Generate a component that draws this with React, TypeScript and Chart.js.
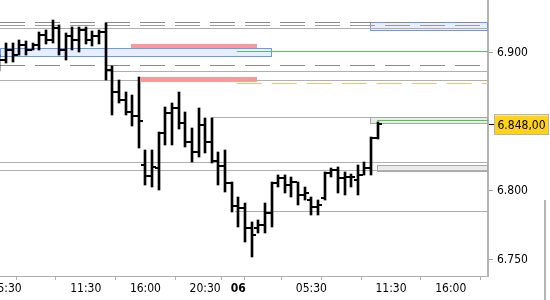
import React, { useEffect, useRef } from 'react';
import { Chart, registerables } from 'chart.js';

Chart.register(...registerables);

// 30-minute bars, x = slot index on the session time axis
const slots = [-1, 0, 1, 2, 3, 4, 5, 6, 7, 8, 9, 10, 11, 12, 13, 14, 15, 16, 17, 18, 19, 20, 21, 22, 23, 24, 25, 26, 27, 28, 29, 30, 31, 32, 33, 34, 35, 36, 37, 38, 39, 40, 41, 42, 43, 44, 45, 46, 47, 48, 49, 50, 51, 52, 53, 54, 55, 56];
const opens = [6.8933, 6.8947, 6.9020, 6.8983, 6.9056, 6.9020, 6.9056, 6.9128, 6.9092, 6.9179, 6.9020, 6.9121, 6.9092, 6.9165, 6.9092, 6.9121, 6.9150, 6.8875, 6.8715, 6.8657, 6.8570, 6.8541, 6.8186, 6.8107, 6.8165, 6.8418, 6.8563, 6.8599, 6.8491, 6.8353, 6.8281, 6.8476, 6.8353, 6.8215, 6.8179, 6.8056, 6.7889, 6.7875, 6.7730, 6.7730, 6.7752, 6.7839, 6.8056, 6.8092, 6.8041, 6.8063, 6.7969, 6.7933, 6.7882, 6.7947, 6.8128, 6.8150, 6.8092, 6.8099, 6.8078, 6.8114, 6.8165, 6.8382];
const highs = [6.8983, 6.9070, 6.9070, 6.9092, 6.9085, 6.9070, 6.9150, 6.9165, 6.9237, 6.9201, 6.9143, 6.9186, 6.9186, 6.9186, 6.9157, 6.9165, 6.9215, 6.8904, 6.8802, 6.8715, 6.8694, 6.8824, 6.8295, 6.8295, 6.8426, 6.8607, 6.8636, 6.8715, 6.8570, 6.8455, 6.8599, 6.8527, 6.8527, 6.8281, 6.8295, 6.8063, 6.7955, 6.7911, 6.7773, 6.7788, 6.7911, 6.8063, 6.8114, 6.8114, 6.8099, 6.8063, 6.8027, 6.7955, 6.7933, 6.8136, 6.8165, 6.8172, 6.8136, 6.8121, 6.8186, 6.8208, 6.8389, 6.8497];
const lows = [6.8868, 6.8926, 6.8933, 6.8983, 6.8983, 6.9020, 6.9020, 6.9063, 6.9070, 6.8983, 6.8947, 6.9020, 6.9005, 6.9063, 6.9049, 6.9063, 6.8802, 6.8549, 6.8636, 6.8549, 6.8469, 6.8310, 6.8041, 6.8027, 6.8005, 6.8331, 6.8331, 6.8447, 6.8317, 6.8208, 6.8244, 6.8273, 6.8201, 6.8041, 6.7991, 6.7846, 6.7737, 6.7628, 6.7519, 6.7694, 6.7694, 6.7737, 6.8027, 6.7984, 6.7955, 6.7897, 6.7933, 6.7824, 6.7824, 6.7933, 6.8099, 6.7984, 6.7969, 6.8027, 6.7969, 6.8114, 6.8114, 6.8375];
const closes = [6.8947, 6.9020, 6.8983, 6.9056, 6.9020, 6.9056, 6.9128, 6.9092, 6.9179, 6.9020, 6.9121, 6.9092, 6.9165, 6.9092, 6.9121, 6.9150, 6.8875, 6.8715, 6.8657, 6.8570, 6.8541, 6.8505, 6.8107, 6.8172, 6.8418, 6.8563, 6.8599, 6.8491, 6.8353, 6.8281, 6.8476, 6.8353, 6.8215, 6.8179, 6.8056, 6.7889, 6.7875, 6.7730, 6.7679, 6.7752, 6.7839, 6.8056, 6.8092, 6.8041, 6.8063, 6.7969, 6.7984, 6.7882, 6.7897, 6.8128, 6.8150, 6.8092, 6.8099, 6.8099, 6.8114, 6.8165, 6.8382, 6.8480];

const timeTickSlots = [0, 3, 12, 21, 30, 35, 37, 46, 49, 58, 67];
const timeTickLabels = ['05:30', '', '11:30', '16:00', '20:30', '06', '', '05:30', '', '11:30', '16:00'];
const dayTickSlot = 35;
const priceTicks = [6.75, 6.8, 6.9];
const lastPrice = 6.848;
const lastPriceLabel = '6.848,00';

const xMin = -0.915;
const xMax = 72.62;
const yMin = 6.7382;
const yMax = 6.9382;

// horizontal levels: price, from slot, to slot
const levelPrices = [6.9219, 6.9197, 6.9175, 6.9010, 6.8904, 6.8865, 6.8800, 6.8778, 6.8527, 6.8510, 6.8208, 6.8143, 6.7853];
const levelFrom = [xMin, xMin, xMin, 34.75, xMin, 15, xMin, 34.75, 30.88, 55.9, xMin, xMin, 34.5];
const levelTo = [xMax, xMax, xMax, xMax, xMax, xMax, xMax, xMax, 54.84, xMax, xMax, xMax, xMax];
const levelKinds = ['dash', 'dash2', 'solid', 'green', 'dash', 'solid', 'solid', 'orange', 'solid', 'green2', 'solid', 'solid', 'solid'];

// zones: top price, bottom price, from slot, to slot
const zoneTop = [6.9220, 6.9032, 6.8531, 6.8186, 6.9063, 6.8822];
const zoneBottom = [6.9162, 6.8974, 6.8489, 6.8143, 6.9034, 6.8790];
const zoneFrom = [54.84, xMin, 54.84, 55.9, 18.83, 20.18];
const zoneTo = [xMax, 40.03, xMax, xMax, 37.8, 37.8];
const zoneKinds = ['blue', 'blue', 'gray', 'gray', 'red', 'red'];

const FONT = "'DejaVu Sans Condensed', 'Liberation Sans', sans-serif";

const lineStyles: Record<string, { color: string; dash: number[] }> = {
  dash: { color: '#8a8a8a', dash: [25, 10] },
  dash2: { color: '#9a9a9a', dash: [25, 10] },
  solid: { color: '#b0b0b0', dash: [] },
  green: { color: '#5cbf5c', dash: [] },
  green2: { color: '#3fd23f', dash: [] },
  orange: { color: '#f2c266', dash: [25, 10] },
};

const zoneStyles: Record<string, { fill: string; stroke: string | null; over: boolean }> = {
  blue: { fill: '#e8eefc', stroke: '#6a9af0', over: false },
  gray: { fill: '#ececec', stroke: '#a8a8a8', over: false },
  red: { fill: '#f79a9a', stroke: null, over: true },
};

function drawZones(chart: any, over: boolean) {
  const { ctx, scales, chartArea } = chart;
  const xs = scales.x;
  const ys = scales.y;
  ctx.save();
  ctx.beginPath();
  ctx.rect(chartArea.left, chartArea.top, chartArea.right - chartArea.left, chartArea.bottom - chartArea.top);
  ctx.clip();
  zoneKinds.forEach((k, i) => {
    const st = zoneStyles[k];
    if (st.over !== over) return;
    const x0 = Math.round(xs.getPixelForValue(zoneFrom[i]));
    const x1 = Math.round(xs.getPixelForValue(zoneTo[i]));
    const y0 = Math.round(ys.getPixelForValue(zoneTop[i]));
    const y1 = Math.round(ys.getPixelForValue(zoneBottom[i]));
    ctx.fillStyle = st.fill;
    ctx.fillRect(x0, y0, x1 - x0, y1 - y0);
    if (st.stroke) {
      ctx.strokeStyle = st.stroke;
      ctx.lineWidth = 1;
      ctx.strokeRect(x0 + 0.5, y0 + 0.5, x1 - x0 - 1, y1 - y0);
    }
  });
  ctx.restore();
}

function drawLastLabel(chart: any) {
  const { ctx, scales, chartArea, width, height } = chart;
  const y = Math.round(scales.y.getPixelForValue(lastPrice));
  const r = chartArea.right;
  ctx.save();
  // right frame edge of the price panel
  ctx.fillStyle = '#b4b4b4';
  ctx.fillRect(width - 6, chartArea.bottom - 76, 2, height - (chartArea.bottom - 76));
  ctx.fillStyle = '#000';
  ctx.fillRect(r + 1, y, 5, 1);
  ctx.fillStyle = '#ffd21c';
  ctx.fillRect(r + 6, y - 10, 54, 21);
  ctx.strokeStyle = '#b4b4b4';
  ctx.lineWidth = 1;
  ctx.strokeRect(r + 6.5, y - 9.5, 54, 20);
  ctx.strokeStyle = '#ffe97a';
  ctx.beginPath();
  ctx.moveTo(r + 7, y - 8.5);
  ctx.lineTo(r + 60, y - 8.5);
  ctx.stroke();
  ctx.fillStyle = '#000';
  ctx.font = `12px ${FONT}`;
  ctx.textBaseline = 'middle';
  ctx.textAlign = 'left';
  ctx.fillText(lastPriceLabel, r + 9.5, y + 1.5);
  ctx.restore();
}

// snap computed element positions to whole pixels so bars stay crisp
const snapPlugin = {
  id: 'snap',
  afterDatasetsUpdate(chart: any) {
    const barMeta = chart.getDatasetMeta(0);
    const openMeta = chart.getDatasetMeta(1);
    const closeMeta = chart.getDatasetMeta(2);
    barMeta.data.forEach((el: any, i: number) => {
      const cx = Math.round(el.x);
      el.x = cx;
      el.y = Math.round(el.y);
      el.base = Math.round(el.base);
      const o = openMeta.data[i];
      if (o) {
        o.x = cx - 2.5;
        o.y = Math.round(o.y);
      }
      const c = closeMeta.data[i];
      if (c) {
        c.x = cx + 2.5;
        c.y = Math.round(c.y);
      }
    });
    for (let d = 3; d < chart.data.datasets.length; d++) {
      const m = chart.getDatasetMeta(d);
      m.data.forEach((p: any) => {
        p.y = Math.floor(p.y) + 0.5;
      });
    }
  },
};

const overlayPlugin = {
  id: 'overlay',
  beforeDatasetsDraw(chart: any) {
    drawZones(chart, false);
  },
  afterDatasetsDraw(chart: any) {
    drawZones(chart, true);
  },
  afterDraw(chart: any) {
    drawLastLabel(chart);
  },
};

export default function App() {
  const ref = useRef<HTMLCanvasElement>(null);

  useEffect(() => {
    document.body.style.margin = '0';
    const canvas = ref.current;
    if (!canvas) return;

    const levelDatasets = levelPrices.map((p, i) => {
      const st = lineStyles[levelKinds[i]];
      return {
        type: 'line' as const,
        data: [
          { x: levelFrom[i], y: p },
          { x: levelTo[i], y: p },
        ],
        borderColor: st.color,
        borderWidth: 1,
        borderDash: st.dash,
        pointRadius: 0,
        pointHoverRadius: 0,
        fill: false,
        order: 10,
      };
    });

    const chart = new Chart(canvas, {
      type: 'bar',
      data: {
        datasets: [
          {
            type: 'bar' as const,
            data: slots.map((s, i) => ({ x: s, y: [lows[i], highs[i]] })) as any,
            backgroundColor: '#000',
            borderWidth: 0,
            borderSkipped: false,
            barThickness: 2,
            grouped: false,
            order: 1,
          },
          {
            type: 'scatter' as const,
            data: slots.map((s, i) => ({ x: s, y: opens[i] })),
            pointStyle: 'line',
            pointRadius: 1.5,
            pointHoverRadius: 1.5,
            borderWidth: 2,
            borderColor: '#000',
            backgroundColor: '#000',
            order: 0,
          },
          {
            type: 'scatter' as const,
            data: slots.map((s, i) => ({ x: s, y: closes[i] })),
            pointStyle: 'line',
            pointRadius: 1.5,
            pointHoverRadius: 1.5,
            borderWidth: 2,
            borderColor: '#000',
            backgroundColor: '#000',
            order: 0,
          },
          ...levelDatasets,
        ] as any,
      },
      options: {
        animation: false,
        responsive: false,
        devicePixelRatio: 1,
        layout: { padding: 0, autoPadding: false },
        events: [],
        plugins: {
          legend: { display: false },
          tooltip: { enabled: false },
        },
        scales: {
          x: {
            type: 'linear',
            min: xMin,
            max: xMax,
            offset: false,
            afterBuildTicks: (scale: any) => {
              scale.ticks = timeTickSlots.map((v) => ({ value: v }));
            },
            afterFit: (scale: any) => {
              scale.height = 24;
              scale.paddingLeft = 0;
              scale.paddingRight = 0;
            },
            grid: {
              display: true,
              drawOnChartArea: false,
              drawTicks: true,
              tickLength: 4,
              tickColor: '#b0b0b0',
              tickWidth: 1,
            },
            border: { display: true, color: '#b0b0b0', width: 1 },
            ticks: {
              autoSkip: false,
              maxRotation: 0,
              minRotation: 0,
              padding: 2,
              color: '#000',
              font: (c: any) => ({
                family: FONT,
                size: 12,
                weight: c.tick && c.tick.value === dayTickSlot ? 'bold' : 'normal',
              }),
              callback: (_v: any, idx: number) => timeTickLabels[idx],
            },
          },
          y: {
            type: 'linear',
            position: 'right',
            min: yMin,
            max: yMax,
            afterBuildTicks: (scale: any) => {
              scale.ticks = priceTicks.map((v) => ({ value: v }));
            },
            afterFit: (scale: any) => {
              scale.width = 62;
              scale.paddingTop = 0;
              scale.paddingBottom = 0;
            },
            grid: {
              display: true,
              drawOnChartArea: false,
              drawTicks: true,
              tickLength: 5,
              tickColor: '#a0a0a0',
              tickWidth: 1,
            },
            border: { display: true, color: '#b4b4b4', width: 2 },
            ticks: {
              padding: 4,
              color: '#000',
              font: { family: FONT, size: 12 },
              callback: (v: any) => Number(v).toFixed(3),
            },
          },
        },
      },
      plugins: [snapPlugin, overlayPlugin],
    });

    return () => chart.destroy();
  }, []);

  return (
    <div style={{ width: 550, height: 300 }}>
      <canvas ref={ref} width={550} height={300} style={{ display: 'block' }} />
    </div>
  );
}
